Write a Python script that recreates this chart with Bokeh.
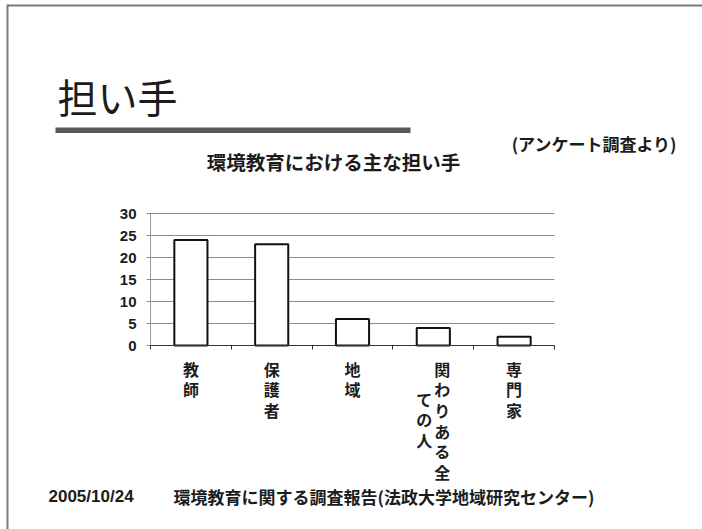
from bokeh.plotting import figure
from bokeh.models import ColumnDataSource, FixedTicker, Range1d, LinearAxis
from bokeh.core.properties import value
from bokeh.embed import file_html
from bokeh.resources import INLINE

# ---- data ----
categories = ["教師", "保護者", "地域", "関わりある全ての人", "専門家"]
values = [24, 23, 6, 4, 2]
y_ticks = [0, 5, 10, 15, 20, 25, 30]
slide_title = "担い手"
chart_title = "環境教育における主な担い手"
source_note = "(アンケート調査より)"
footer_date = "2005/10/24"
footer_text = "環境教育に関する調査報告(法政大学地域研究センター)"

# ---- slide geometry (page pixels) ----
W, H = 702, 529
FL, FR, FT, FB = 150, 554, 213, 345      # chart area on the slide
YMAX = 30
n = len(categories)
JP = "Noto Sans CJK JP"
INK = "#1c1c1c"
FRAME_C = "#7a7a7a"
GRID_C = "#8c8c8c"

# page coordinates (pixels, y downward) for the slide decoration and texts
p = figure(width=W, height=H, output_backend="svg", toolbar_location=None,
           x_range=Range1d(0, W), y_range=Range1d(H, 0),
           x_axis_location=None, y_axis_location=None, min_border=0, title=None)
p.outline_line_color = None
p.xgrid.visible = False
p.ygrid.visible = False
p.background_fill_color = "white"
p.border_fill_color = "white"

# chart coordinates: categories 0..n across FL..FR, values 0..30 across FB..FT
ux = (FR - FL) / n
uy = (FB - FT) / YMAX
p.extra_x_ranges = {"cx": Range1d(-FL / ux, (W - FL) / ux)}
p.extra_y_ranges = {"cy": Range1d(-(H - FB) / uy, FB / uy)}

# y axis (its inward ticks double as the horizontal grid lines)
yax = LinearAxis(x_range_name="cx", y_range_name="cy", fixed_location=0,
                 bounds=(0, YMAX), ticker=FixedTicker(ticks=y_ticks))
yax.level = "underlay"
yax.axis_line_color = "#9a9a9a"
yax.major_tick_line_color = GRID_C
yax.major_tick_out = 4
yax.major_tick_in = FR - FL
yax.minor_tick_line_color = None
yax.major_label_standoff = 10
yax.major_label_text_font = "Liberation Sans"
yax.major_label_text_font_style = "bold"
yax.major_label_text_font_size = "15px"
yax.major_label_text_color = INK
p.add_layout(yax, "left")

# bars
xs = [i + 0.5 for i in range(n)]
src = ColumnDataSource(dict(x=xs, top=values))
p.vbar(x="x", top="top", bottom=0, width=0.41, source=src,
       x_range_name="cx", y_range_name="cy",
       fill_color="white", line_color="#111111", line_width=2)

# x axis: ticks at category boundaries
xax = LinearAxis(x_range_name="cx", y_range_name="cy", fixed_location=0,
                 bounds=(0, n), ticker=FixedTicker(ticks=list(range(n + 1))))
xax.axis_line_color = "#333333"
xax.major_tick_line_color = "#333333"
xax.major_tick_out = 4
xax.major_tick_in = 0
xax.minor_tick_line_color = None
xax.major_label_overrides = {i: "" for i in range(n + 1)}
p.add_layout(xax, "below")

# category labels: vertical text in columns of up to 6 characters, right to left
MAXCOL = 6      # characters per vertical column
ROW = 20        # px per character row
COLGAP = 18     # px between columns
FS = 16         # label font size
lx, lxo, ly, lt = [], [], [], []
for i, cat in enumerate(categories):
    cols = [cat[k:k + MAXCOL] for k in range(0, len(cat), MAXCOL)]
    longest = max(len(c) for c in cols)
    for j, col in enumerate(cols):
        lx.append(xs[i])
        lxo.append(((len(cols) - 1) / 2 - j) * COLGAP)
        ly.append(FB + 11 + (longest - len(col)) / 2 * ROW)
        lt.append("\n".join(col))
lsrc = ColumnDataSource(dict(x=lx, xo=lxo, y=ly, text=lt))
p.text(x="x", y="y", x_offset="xo", text="text", source=lsrc, x_range_name="cx",
       text_font=value(JP), text_font_style="bold", text_font_size=f"{FS}px",
       text_line_height=ROW / (FS * 1.448), text_color=INK,
       text_align="center", text_baseline="top")

# slide frame (top and left edges)
p.line(x=[7, W + 5], y=[5, 5], line_color=FRAME_C, line_width=2)
p.line(x=[7, 7], y=[4, H + 5], line_color=FRAME_C, line_width=2)

# slide title and its underline
p.text(x=[57], y=[95], text=[slide_title], text_font=value(JP),
       text_font_size="40px", text_color=INK, text_align="left",
       text_baseline="middle")
p.quad(left=[55], right=[410], top=[127], bottom=[132.5],
       fill_color="#585858", line_color=None)

# note and chart title
p.text(x=[677], y=[143], text=[source_note], text_font=value(JP),
       text_font_style="bold", text_font_size="17px", text_color=INK,
       text_align="right", text_baseline="middle")
p.text(x=[333], y=[161], text=[chart_title], text_font=value(JP),
       text_font_style="bold", text_font_size="19.5px", text_color=INK,
       text_align="center", text_baseline="middle")

# footer
p.text(x=[48], y=[496], text=[footer_date], text_font=value("Liberation Sans"),
       text_font_style="bold", text_font_size="17px", text_color=INK,
       text_align="left", text_baseline="middle")
p.text(x=[173], y=[496], text=[footer_text], text_font=value(JP),
       text_font_style="bold", text_font_size="17px", text_color=INK,
       text_align="left", text_baseline="middle")

open("out.html", "w").write(file_html(p, INLINE))
